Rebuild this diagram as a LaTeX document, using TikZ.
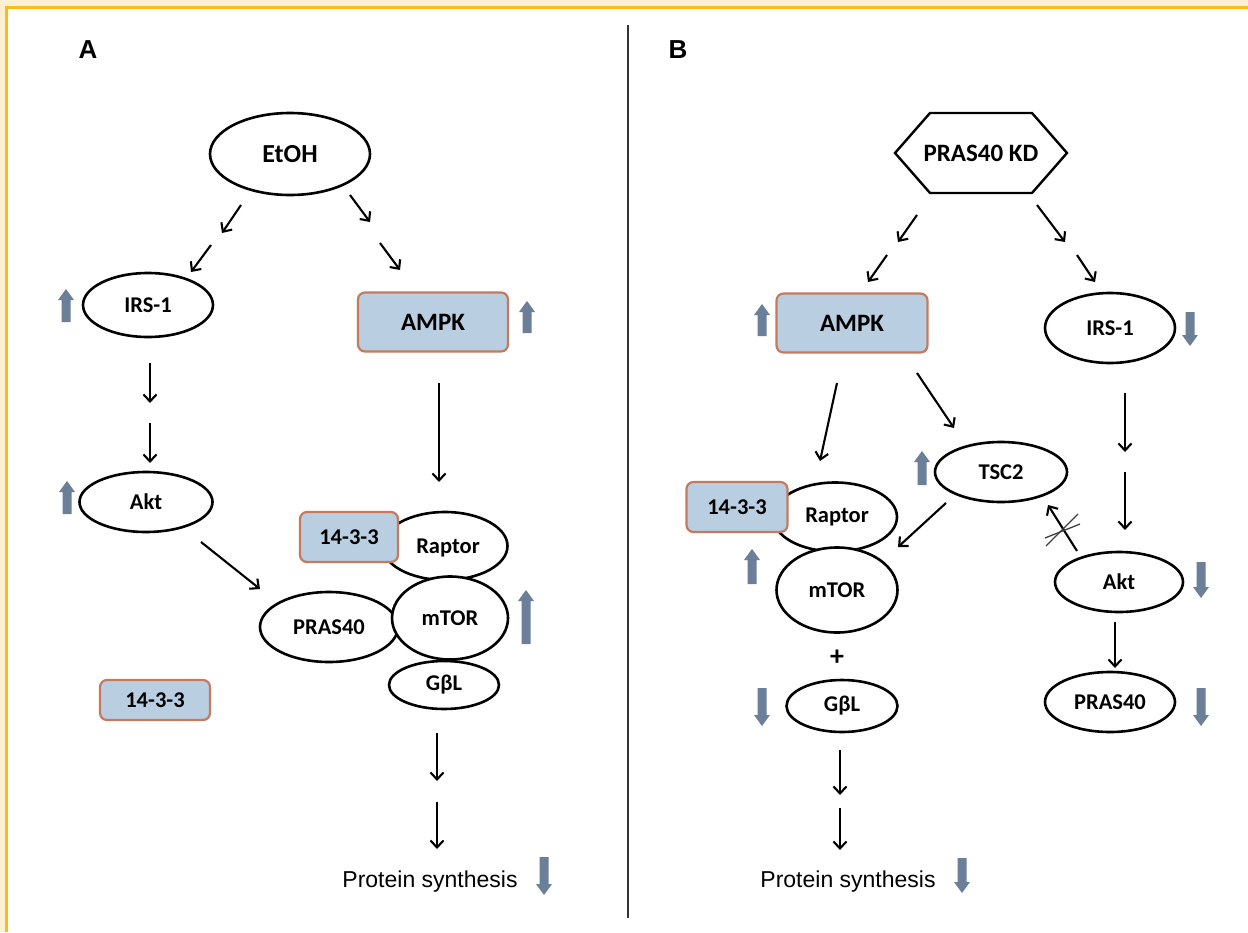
\documentclass[tikz,border=0pt]{standalone}
\usepackage{fontspec}
\usetikzlibrary{shapes.geometric,arrows.meta}
\newfontfamily\lblfont{Carlito}
\newfontfamily\arialfont{Liberation Sans}
\definecolor{frameorange}{HTML}{F5BE1E}
\definecolor{framecream}{HTML}{FDF0D2}
\definecolor{boxfill}{HTML}{B9CEE0}
\definecolor{boxborder}{HTML}{C47A5E}
\definecolor{bluearr}{HTML}{6B7F99}
\newcommand\lbl{\lblfont\bfseries\fontsize{22.5}{26}\selectfont}
\newcommand\blueup[3]{\fill[bluearr] ({#1-4.5},{#3}) -- ({#1-4.5},{#2+11}) -- ({#1-8},{#2+11}) -- ({#1},{#2}) -- ({#1+8},{#2+11}) -- ({#1+4.5},{#2+11}) -- ({#1+4.5},{#3}) -- cycle;}
\newcommand\bluedown[3]{\fill[bluearr] ({#1-4.5},{#2}) -- ({#1-4.5},{#3-11}) -- ({#1-8},{#3-11}) -- ({#1},{#3}) -- ({#1+8},{#3-11}) -- ({#1+4.5},{#3-11}) -- ({#1+4.5},{#2}) -- cycle;}
\tikzset{
  ell/.style={ellipse, draw, line width=2.6pt, fill=white, inner sep=0pt, font=\lbl},
  pbox/.style={rectangle, rounded corners=7pt, draw=boxborder, fill=boxfill, line width=2.2pt, inner sep=0pt, font=\lbl},
  arr/.style={-{Straight Barb[length=7pt,width=13pt,line width=2.1pt]}, line width=2.1pt},
  panel/.style={font=\arialfont\bfseries\fontsize{26}{30}\selectfont},
  ptxt/.style={font=\arialfont\fontsize{23}{26}\selectfont},
}
\begin{document}
\begin{tikzpicture}[x=1pt,y=-1pt]
\path[use as bounding box, fill=white] (0,0) rectangle (1248,932);
% frame
\fill[framecream] (0,0) rectangle (1248,6);
\fill[framecream] (0,0) rectangle (5,932);
\fill[frameorange] (5,6) rectangle (1248,9);
\fill[frameorange] (5,6) rectangle (8,932);
% divider
\draw[line width=2pt, black!80] (628,25) -- (628,918);

% ================= Panel A =================
\node[panel] (labA) at (88,50) {A};
\node[ell, minimum width=160pt, minimum height=82pt] (etoh) at (290,154) {\fontsize{26}{30}\selectfont EtOH};
\node[ell, minimum width=130pt, minimum height=64pt] (irsA) at (148,305) {IRS-1};
\node[pbox, minimum width=150pt, minimum height=59pt] (ampkA) at (433,322) {\fontsize{25}{28}\selectfont AMPK};
\node[ell, minimum width=133pt, minimum height=60pt] (aktA) at (146,502) {Akt};
\node[ell, minimum width=125pt, minimum height=68pt] (raptorA) at (445,546) {};
\node[ell, minimum width=138pt, minimum height=70pt] (prasA) at (329,627) {PRAS40};
\node[ell, minimum width=116pt, minimum height=83pt] (mtorA) at (450,618) {mTOR};
\node[ell, minimum width=110pt, minimum height=48pt] (gblA) at (444,685) {GβL};
\node[font=\lbl] (raptorAt) at (448,548) {Raptor};
\node[pbox, minimum width=98pt, minimum height=50pt] (b1433A) at (349,537) {14-3-3};
\node[pbox, minimum width=110pt, minimum height=40pt] (b1433A2) at (155,700) {14-3-3};
\node[ptxt] (psA) at (430,882) {Protein synthesis};

% arrows A
\coordinate (a1s) at (241,205); \coordinate (a1e) at (222,233);
\coordinate (a2s) at (211,245); \coordinate (a2e) at (191,272);
\coordinate (a3s) at (350,195); \coordinate (a3e) at (370,222);
\coordinate (a4s) at (380,243); \coordinate (a4e) at (400,270);
\draw[arr] (a1s) -- (a1e);
\draw[arr] (a2s) -- (a2e);
\draw[arr] (a3s) -- (a3e);
\draw[arr] (a4s) -- (a4e);
\coordinate (a5s) at (150,363); \coordinate (a5e) at (150,403);
\coordinate (a6s) at (150,423); \coordinate (a6e) at (150,463);
\draw[arr] (a5s) -- (a5e);
\draw[arr] (a6s) -- (a6e);
\coordinate (a7s) at (201,542); \coordinate (a7e) at (260,589);
\draw[arr] (a7s) -- (a7e);
\coordinate (a8s) at (439,383); \coordinate (a8e) at (439,482);
\draw[arr] (a8s) -- (a8e);
\coordinate (a9s) at (437,733); \coordinate (a9e) at (437,781);
\coordinate (a10s) at (437,802); \coordinate (a10e) at (437,849);
\draw[arr] (a9s) -- (a9e);
\draw[arr] (a10s) -- (a10e);

% blue arrows A
\blueup{66}{289}{322}
\blueup{527}{301}{333}
\blueup{67}{481}{514}
\blueup{526}{590}{644}
\bluedown{544}{857}{895}

% ================= Panel B =================
\node[panel] (labB) at (678,50) {B};
\node[font=\lbl] (kd) at (981,153) {\fontsize{25}{28}\selectfont PRAS40 KD};
\draw[line width=2.4pt, line join=miter] (930,113) -- (1032,113) -- (1067,153) -- (1032,193) -- (930,193) -- (895,153) -- cycle;
\node[pbox, minimum width=151pt, minimum height=59pt] (ampkB) at (852,323) {\fontsize{25}{28}\selectfont AMPK};
\node[ell, minimum width=130pt, minimum height=70pt] (irsB) at (1110,328) {IRS-1};
\node[ell, minimum width=132pt, minimum height=60pt] (tsc2) at (1001,472) {TSC2};
\node[ell, minimum width=124pt, minimum height=69pt] (raptorB) at (835,517) {};
\node[ell, minimum width=121pt, minimum height=85pt] (mtorB) at (837,590) {mTOR};
\node[font=\lbl] (raptorBt) at (837,517) {Raptor};
\node[pbox, minimum width=101pt, minimum height=50pt] (b1433B) at (737,507) {14-3-3};
\node[font=\lbl\fontsize{28}{30}\selectfont] (plus) at (837,658) {+};
\node[ell, minimum width=111pt, minimum height=52pt] (gblB) at (842,706) {GβL};
\node[ell, minimum width=128pt, minimum height=60pt] (aktB) at (1119,582) {Akt};
\node[ell, minimum width=130pt, minimum height=60pt] (prasB) at (1110,702) {PRAS40};
\node[ptxt] (psB) at (848,882) {Protein synthesis};

% arrows B
\coordinate (b1s) at (917,215); \coordinate (b1e) at (898,242);
\coordinate (b2s) at (887,255); \coordinate (b2e) at (868,282);
\coordinate (b3s) at (1037,205); \coordinate (b3e) at (1065,242);
\coordinate (b4s) at (1077,255); \coordinate (b4e) at (1095,282);
\draw[arr] (b1s) -- (b1e);
\draw[arr] (b2s) -- (b2e);
\draw[arr] (b3s) -- (b3e);
\draw[arr] (b4s) -- (b4e);
\coordinate (b5s) at (837,383); \coordinate (b5e) at (820,461);
\draw[arr] (b5s) -- (b5e);
\coordinate (b6s) at (917,373); \coordinate (b6e) at (954,428);
\draw[arr] (b6s) -- (b6e);
\coordinate (b7s) at (946,503); \coordinate (b7e) at (898,547);
\draw[arr] (b7s) -- (b7e);
\coordinate (b8s) at (1125,393); \coordinate (b8e) at (1125,452);
\coordinate (b9s) at (1125,472); \coordinate (b9e) at (1125,530);
\draw[arr] (b8s) -- (b8e);
\draw[arr] (b9s) -- (b9e);
\coordinate (b10s) at (1077,551); \coordinate (b10e) at (1048,505);
\draw[arr] (b10s) -- (b10e);
\draw[line width=1.3pt, black!75] (1046,546) -- (1078,514);
\draw[line width=1.3pt, black!75] (1045,538) -- (1080,524);
\coordinate (b11s) at (1115,622); \coordinate (b11e) at (1115,668);
\draw[arr] (b11s) -- (b11e);
\coordinate (b12s) at (840,750); \coordinate (b12e) at (840,795);
\coordinate (b13s) at (840,808); \coordinate (b13e) at (840,850);
\draw[arr] (b12s) -- (b12e);
\draw[arr] (b13s) -- (b13e);

% blue arrows B
\blueup{762}{304}{336}
\bluedown{1190}{312}{346}
\blueup{922}{451}{485}
\blueup{752}{549}{584}
\bluedown{762}{688}{726}
\bluedown{1201}{562}{598}
\bluedown{1201}{688}{726}
\bluedown{962}{858}{893}
\end{tikzpicture}
\end{document}
